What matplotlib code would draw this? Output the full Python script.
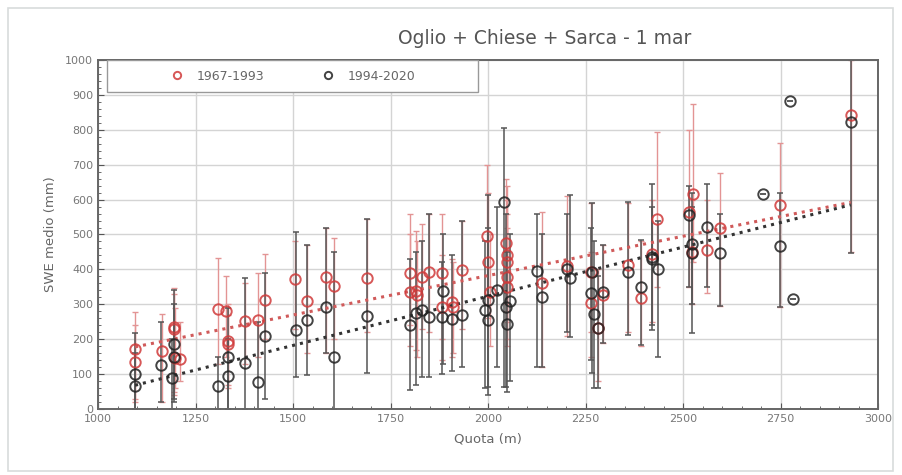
import numpy as np
import matplotlib
matplotlib.use('Agg')
import matplotlib.pyplot as plt
from matplotlib.patches import Rectangle

# 1967-1993 stations: elevation (m), mean SWE (mm), bar low / high (mm)
red_quota = [1095, 1095, 1164, 1195, 1195, 1198, 1210, 1308, 1328, 1333, 1333, 1377, 1410, 1428,
             1505, 1536, 1585, 1605, 1690, 1800, 1800, 1815, 1818, 1831, 1849, 1882, 1882, 1908,
             1910, 1933, 1997, 2000, 2005, 2046, 2049, 2049, 2049, 2049, 2139, 2203, 2264, 2264,
             2282, 2295, 2359, 2392, 2421, 2433, 2515, 2526, 2523, 2562, 2595, 2749, 2931]
red_swe = [172, 135, 166, 235, 228, 146, 142, 287, 280, 195, 185, 252, 255, 312,
           372, 310, 378, 352, 375, 390, 335, 338, 327, 378, 393, 390, 292, 307,
           292, 398, 496, 421, 335, 475, 441, 421, 378, 350, 361, 410, 393, 304,
           232, 327, 413, 318, 444, 544, 564, 616, 450, 455, 519, 584, 842]
red_lo = [30, 20, 20, 40, 50, 60, 80, 130, 150, 60, 70, 130, 150, 200,
          230, 160, 160, 200, 220, 240, 180, 170, 150, 230, 220, 200, 140, 150,
          160, 230, 300, 260, 180, 300, 280, 250, 200, 180, 120, 210, 220, 150,
          80, 190, 220, 180, 250, 350, 350, 420, 300, 332, 295, 292, 450]
red_hi = [278, 240, 272, 346, 330, 290, 250, 432, 380, 300, 270, 360, 390, 444,
          480, 470, 520, 490, 545, 560, 500, 510, 480, 530, 560, 560, 440, 430,
          420, 540, 700, 620, 500, 660, 640, 600, 560, 520, 565, 610, 590, 450,
          400, 470, 590, 480, 600, 794, 800, 874, 600, 600, 676, 762, 1000]

# 1994-2020 stations
blk_quota = [1095, 1095, 1162, 1195, 1195, 1190, 1308, 1333, 1333, 1377, 1410, 1428, 1508, 1536,
             1585, 1605, 1690, 1800, 1815, 1831, 1849, 1885, 1882, 1908, 1933, 1992, 2000, 2000,
             2023, 2041, 2046, 2056, 2049, 2125, 2139, 2210, 2203, 2267, 2264, 2272, 2295, 2282,
             2359, 2392, 2421, 2421, 2436, 2523, 2523, 2515, 2562, 2595, 2705, 2749, 2774, 2782, 2931]
blk_swe = [100, 66, 126, 186, 150, 89, 66, 149, 95, 132, 77, 210, 226, 255,
           292, 149, 266, 241, 275, 284, 263, 338, 264, 258, 269, 284, 312, 255,
           341, 593, 292, 309, 243, 395, 321, 376, 400, 393, 332, 271, 335, 232,
           393, 350, 436, 430, 401, 473, 446, 556, 522, 446, 616, 467, 882, 315, 822]
blk_lo = [0, 0, 20, 30, 20, 0, 0, 0, 0, 0, 0, 30, 92, 97,
          160, 0, 103, 54, 69, 92, 92, 130, 100, 110, 120, 60, 63, 40,
          120, 63, 63, 80, 50, 120, 120, 206, 220, 103, 140, 60, 189, 60,
          212, 183, 226, 240, 149, 218, 300, 350, 350, 295, 616, 292, 882, 315, 447]
blk_hi = [218, 160, 250, 340, 300, 200, 150, 290, 200, 375, 250, 390, 507, 470,
          520, 450, 545, 430, 450, 480, 560, 500, 420, 440, 540, 480, 613, 520,
          580, 805, 560, 500, 450, 560, 500, 613, 560, 590, 520, 480, 470, 380,
          592, 484, 645, 580, 540, 620, 580, 640, 645, 560, 616, 620, 882, 315, 1000]

# linear trends (ends)
trend_quota = [1095, 2930]
red_trend = [178, 592]
blk_trend = [68, 585]

xticks = [1000, 1250, 1500, 1750, 2000, 2250, 2500, 2750, 3000]
yticks = list(range(0, 1001, 100))

fig = plt.figure(figsize=(9.02, 4.75), dpi=100)
fig.patches.append(Rectangle((8 / 902, 4 / 475), 885 / 902, 463 / 475, transform=fig.transFigure,
                             fill=False, edgecolor='#d8dcdc', lw=1.2))
ax = fig.add_axes([98 / 902, 66 / 475, 780 / 902, 349 / 475])

red_x = np.array(red_quota)
red_y = np.array(red_swe)
blk_x = np.array(blk_quota)
blk_y = np.array(blk_swe)

#error bars (min - max)
ax.errorbar(red_x, red_y, yerr=[red_y - np.array(red_lo), np.array(red_hi) - red_y], fmt='none',
            ecolor='#e39494', elinewidth=1.0, capsize=2.5, capthick=1.0, zorder=2)
ax.errorbar(blk_x, blk_y, yerr=[blk_y - np.array(blk_lo), np.array(blk_hi) - blk_y], fmt='none',
            ecolor='#555555', elinewidth=1.1, capsize=2.5, capthick=1.1, zorder=2)

ax.plot(trend_quota, red_trend, linestyle=':', color='#d05a5a', lw=2.2, zorder=3)
ax.plot(trend_quota, blk_trend, linestyle=':', color='#333333', lw=2.2, zorder=3)

ax.plot(red_x, red_y, 'o', mfc='none', mec='#d03a3a', mew=1.4, ms=7.5, alpha=0.85,
        label='1967-1993', zorder=4)
ax.plot(blk_x, blk_y, 'o', mfc='none', mec='#222222', mew=1.4, ms=7.5, alpha=0.85,
        label='1994-2020', zorder=5)

ax.set_xlim(1000, 3000)
ax.set_ylim(0, 1000)
ax.set_xticks(xticks)
ax.set_yticks(yticks)
ax.set_xticks(np.arange(1000, 3001, 50), minor=True)
ax.set_yticks(np.arange(0, 1001, 20), minor=True)
ax.tick_params(which='both', direction='in', colors='#555555', labelcolor='#777777', labelsize=8)
ax.tick_params(which='major', length=4)
ax.tick_params(which='minor', length=2)
ax.grid(True, which='major', color='#d4d4d4', lw=1.0)
ax.set_axisbelow(True)
for s in ax.spines.values():
    s.set_color('#666666')
    s.set_linewidth(1.4)

ax.set_xlabel('Quota (m)', fontsize=9.5, color='#666666', labelpad=6)
ax.set_ylabel('SWE medio (mm)', fontsize=9.5, color='#666666', labelpad=6)
fig.text(545 / 902, 1 - 38 / 475, 'Oglio + Chiese + Sarca - 1 mar', ha='center', va='center',
         fontsize=13.5, color='#555555')

# legend box drawn separately, entries centred inside
ax.add_patch(Rectangle((0.012, 0.908), 0.475, 0.092, transform=ax.transAxes, facecolor='white',
                       edgecolor='#999999', lw=1.0, zorder=6))
leg = ax.legend(loc='center', bbox_to_anchor=(0.25, 0.954), ncol=2, fontsize=9, frameon=False,
                handletextpad=1.1, columnspacing=4.6, markerscale=0.7, borderaxespad=0.0,
                handlelength=1.0)
leg.set_zorder(7)
for t in leg.get_texts():
    t.set_color('#666666')

fig.savefig('out.png', dpi=100)
